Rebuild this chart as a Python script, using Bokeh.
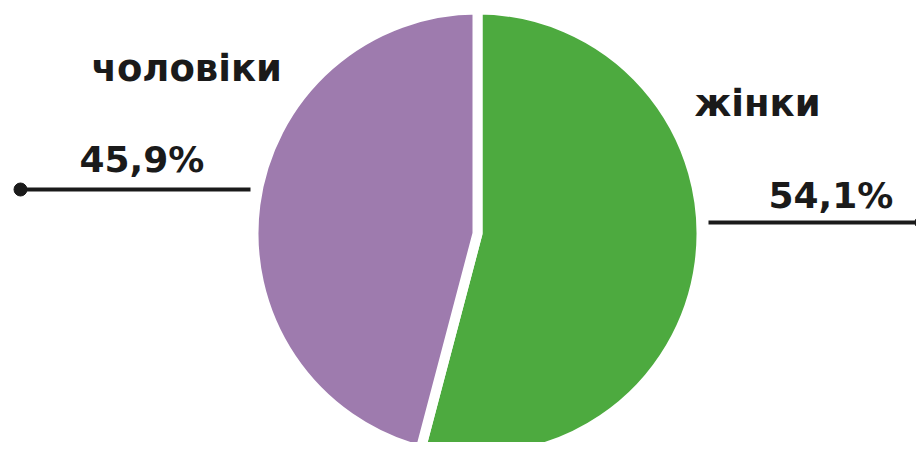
import math
from bokeh.plotting import figure
from bokeh.models import Range1d, ColumnDataSource
from bokeh.core.properties import value
from bokeh.embed import file_html
from bokeh.resources import INLINE

categories = ["жінки", "чоловіки"]
values = [54.1, 45.9]
colors = ["#4DAA3F", "#9E7BAE"]

W, H = 916, 442
# data coords: x = reference px, y = 450 - reference px (1:1 scale)
p = figure(width=W, height=H, output_backend="svg", toolbar_location=None,
           x_range=Range1d(0, W), y_range=Range1d(450 - H, 450),
           min_border=0, outline_line_color=None)
p.axis.visible = False
p.grid.visible = False
p.background_fill_color = "white"
p.border_fill_color = "white"

gap = 10
cx, cy, r = 477, 450 - 233, 219 + gap / 2   # white separating stroke eats half its width
total = sum(values)
starts, ends = [], []
ang = math.pi / 2
for v in values:
    sweep = 2 * math.pi * v / total
    starts.append(ang - sweep)
    ends.append(ang)
    ang -= sweep
src = ColumnDataSource(dict(start=starts, end=ends, color=colors))
p.wedge(x=cx, y=cy, radius=r, start_angle="start", end_angle="end",
        fill_color="color", line_color="white", line_width=gap, source=src)

pct = [f"{v:.1f}".replace(".", ",") + "%" for v in values]

font = value("DejaVu Sans")
# category labels: [жінки, чоловіки]
name_x = [694, 91]
name_y = [450 - 103, 450 - 68]
p.text(x=name_x, y=name_y, text=categories, text_font=font, text_font_style="bold",
       text_font_size="37px", text_color="#1a1a1a", text_baseline="alphabetic",
       text_align="left")
pct_x = [768, 79]
pct_y = [450 - 195, 450 - 159]
p.text(x=pct_x, y=pct_y, text=pct, text_font=font, text_font_style="bold",
       text_font_size="36px", text_color="#1a1a1a", text_baseline="alphabetic",
       text_align="left")

# leader lines
p.segment(x0=[708, 20], y0=[450 - 222, 450 - 189], x1=[924, 250], y1=[450 - 222, 450 - 189],
          line_color="#1a1a1a", line_width=4)
p.scatter(x=[921, 20], y=[450 - 222, 450 - 189], size=13, color="#1a1a1a")

open("out.html", "w").write(file_html(p, INLINE))
